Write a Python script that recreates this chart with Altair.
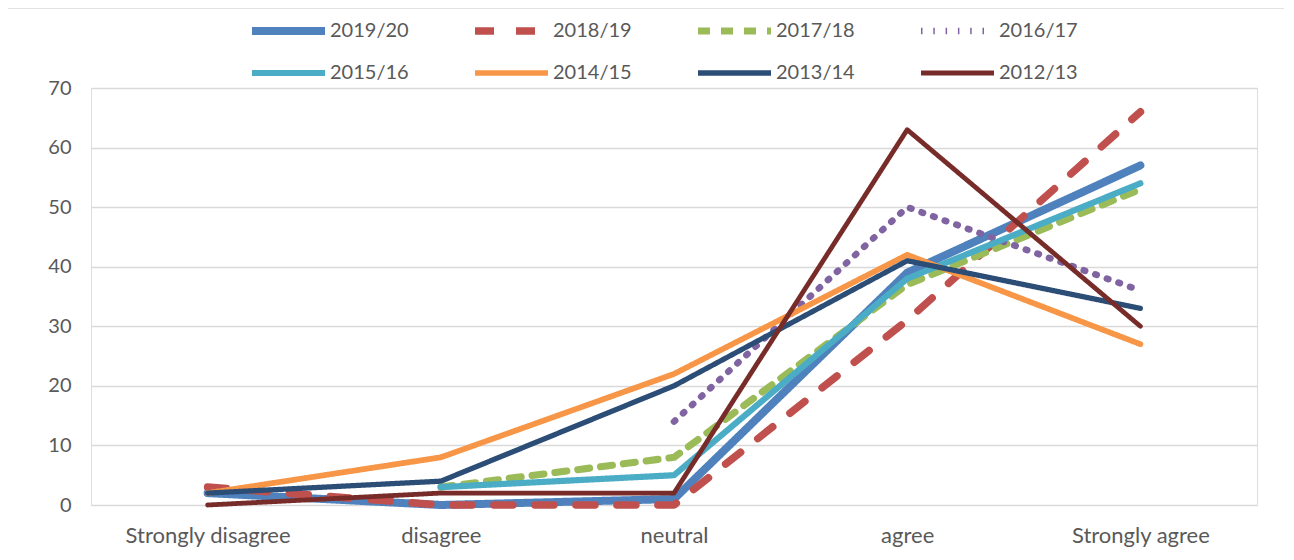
import altair as alt
import pandas as pd

categories = ["Strongly disagree", "disagree", "neutral", "agree", "Strongly agree"]
years = ["2019/20", "2018/19", "2017/18", "2016/17", "2015/16", "2014/15", "2013/14", "2012/13"]

v_2019_20 = [2, 0, 1, 39, 57]
v_2018_19 = [3, 0, 0, 31, 66]
v_2017_18 = [None, 3, 8, 37, 53]
v_2016_17 = [None, None, 14, 50, 36]
v_2015_16 = [None, 3, 5, 38, 54]
v_2014_15 = [2, 8, 22, 42, 27]
v_2013_14 = [2, 4, 20, 41, 33]
v_2012_13 = [0, 2, 2, 63, 30]

series = [v_2019_20, v_2018_19, v_2017_18, v_2016_17, v_2015_16, v_2014_15, v_2013_14, v_2012_13]

colors = ["#4F81BD", "#C0504D", "#9BBB59", "#8064A2", "#4BACC6", "#F79646", "#2C4D75", "#772C2A"]
dashes = [[1, 0], [19, 22], [12, 11], [1.5, 10.8], [1, 0], [1, 0], [1, 0], [1, 0]]
widths = [8, 4.8, 5.2, 5, 4.8, 4.8, 4.8, 4.8]

rows = []
for yr, vals in zip(years, series):
    for i, (c, v) in enumerate(zip(categories, vals)):
        rows.append({"year": yr, "category": c, "idx": i, "value": v})
df = pd.DataFrame(rows)

W, H = 1166, 417
TEXT = "#595959"
GRID = "#d9d9d9"
FONT = "Lato"

legend = alt.Legend(
    title=None, orient="none", legendX=157, legendY=-67, columns=4, direction="horizontal",
    symbolType="stroke", symbolSize=5329, clipHeight=20, rowPadding=22,
    columnPadding=62, gridAlign="all", labelFont=FONT, labelFontSize=20,
    labelColor=TEXT, labelOffset=1,
)

frame = alt.Chart(alt.Data(values=[{}])).mark_rect(
    fill="transparent", stroke=GRID, strokeWidth=1.5, clip=False
).encode(
    x=alt.value(-84), x2=alt.value(W + 200), y=alt.value(-80), y2=alt.value(H + 200)
)

lines = alt.Chart(df).mark_line(strokeCap="round", strokeJoin="round").encode(
    x=alt.X("category:N", sort=categories,
            scale=alt.Scale(type="point", padding=0.5, domain=categories),
            axis=alt.Axis(title=None, labelAngle=0, ticks=False, domain=False, grid=False,
                          labelFont=FONT, labelFontSize=22, labelColor=TEXT, labelPadding=20)),
    y=alt.Y("value:Q", scale=alt.Scale(domain=[0, 70], nice=False),
            axis=alt.Axis(title=None, values=list(range(0, 71, 10)), ticks=False, domain=False,
                          grid=True, gridColor=GRID, gridWidth=1.5,
                          labelFont=FONT, labelFontSize=20, labelColor=TEXT, labelPadding=20)),
    color=alt.Color("year:N", sort=years, scale=alt.Scale(domain=years, range=colors), legend=legend),
    strokeDash=alt.StrokeDash("year:N", sort=years, scale=alt.Scale(domain=years, range=dashes), legend=legend),
    strokeWidth=alt.StrokeWidth("year:N", sort=years, scale=alt.Scale(domain=years, range=widths), legend=legend),
    order=alt.Order("idx:Q"),
)

chart = alt.layer(frame, lines).properties(
    width=W, height=H,
    autosize=alt.AutoSizeParams(type="none"),
    padding={"left": 83, "top": 80, "right": 27, "bottom": 47},
).configure_view(stroke=None).configure(background="white")

chart.save("out.html", embed_options={"renderer": "svg", "actions": False})
